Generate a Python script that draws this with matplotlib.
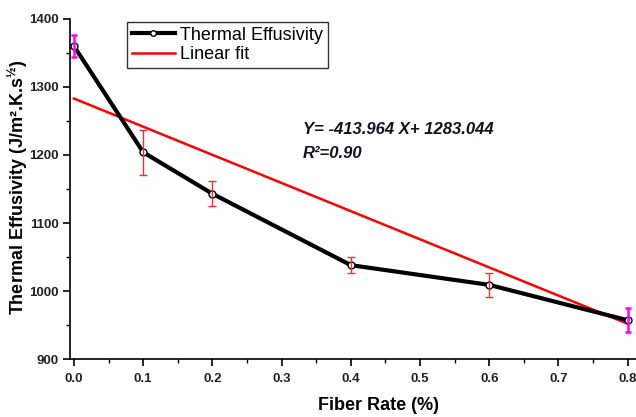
import matplotlib
matplotlib.use("Agg")
import matplotlib.pyplot as plt
import numpy as np
from matplotlib.ticker import MultipleLocator

plt.rcParams['font.family'] = ['Liberation Sans', 'DejaVu Sans']
plt.rcParams['mathtext.fontset'] = 'custom'
plt.rcParams['mathtext.rm'] = 'Liberation Sans'
plt.rcParams['mathtext.bf'] = 'Liberation Sans:bold'
plt.rcParams['mathtext.it'] = 'Liberation Sans:italic'

# Data
fiber_rate = [0.0, 0.1, 0.2, 0.4, 0.6, 0.8]
effusivity = [1360, 1204, 1143, 1038, 1009, 957]
errors = [16, 33, 18.5, 12, 17.5, 18]
fit_slope = -413.964
fit_intercept = 1283.044
fit_x = [0.0, 0.8]
x_ticks = [0.0, 0.1, 0.2, 0.3, 0.4, 0.5, 0.6, 0.7, 0.8]
y_ticks = [900, 1000, 1100, 1200, 1300, 1400]

fig = plt.figure(figsize=(6.36, 4.17), dpi=100)
ax = fig.add_axes([70/636, 1-359/417, 566/636, 340/417])

fx = np.array(fit_x)
ax.plot(fx, fit_slope*fx + fit_intercept, color='#ff0000', lw=1.8, zorder=2, label='Linear fit')

line, = ax.plot(fiber_rate, effusivity, color='black', lw=3, marker='o', ms=5,
                mfc='white', mec='black', mew=1, zorder=3, label='Thermal Effusivity')

fr = np.array(fiber_rate); ef = np.array(effusivity); er = np.array(errors)
mid = slice(1, 5)
ax.errorbar(fr[mid], ef[mid], yerr=er[mid], fmt='none', ecolor='#e8303a', elinewidth=1,
            capsize=3, capthick=1, zorder=4)
ends = [0, 5]
ax.errorbar(fr[ends], ef[ends], yerr=er[ends], fmt='none', ecolor='#ff00ff', elinewidth=1.8,
            capsize=2.5, capthick=1.8, zorder=4)

ax.set_xlim(-0.0058, 0.812)
ax.set_ylim(900, 1400)
ax.set_xticks(x_ticks)
ax.set_yticks(y_ticks)
ax.xaxis.set_minor_locator(MultipleLocator(0.05))
ax.yaxis.set_minor_locator(MultipleLocator(50))
ax.set_xticklabels([f"{v:.1f}" for v in x_ticks])
ax.set_yticklabels([str(v) for v in y_ticks])
for sp in ['top', 'right']:
    ax.spines[sp].set_visible(False)
for sp in ['left', 'bottom']:
    ax.spines[sp].set_linewidth(1.2)
    ax.spines[sp].set_clip_on(False)
ax.tick_params(axis='both', which='major', direction='out', length=5, width=1.2,
               labelsize=9.5, colors='black', labelcolor='#222222', pad=3)
ax.tick_params(axis='x', which='major', pad=5)
ax.tick_params(axis='both', which='minor', direction='out', length=3, width=1)
for lab in ax.get_xticklabels() + ax.get_yticklabels():
    lab.set_fontweight('bold')

fig.text(18/636, 1-187/417, "Thermal Effusivity (J/m².K.s$^{\\mathbf{½}}$)",
         rotation=90, ha='center', va='center', fontsize=13, fontweight='bold')
fig.text(379/636, 1-405/417, "Fiber Rate (%)", ha='center', va='center',
         fontsize=13, fontweight='bold')

fig.text(303/636, 1-130/417, "Y= -413.964 X+ 1283.044",
         ha='left', va='center', fontsize=12, fontweight='bold', style='italic', color='#111122')
fig.text(303/636, 1-153/417, "R²=0.90",
         ha='left', va='center', fontsize=12, fontweight='bold', style='italic', color='#111122')

leg = ax.legend(handles=[line, ax.lines[0]], loc='upper left',
                bbox_to_anchor=(127/636, 1-22/417), bbox_transform=fig.transFigure,
                fontsize=13, frameon=True, fancybox=False, handlelength=2.4,
                handletextpad=0.3, borderpad=0.25, labelspacing=0.15, borderaxespad=0,
                markerscale=0.8)
leg.get_frame().set_edgecolor('black')
leg.get_frame().set_linewidth(1.0)

fig.savefig("out.png", dpi=100)
